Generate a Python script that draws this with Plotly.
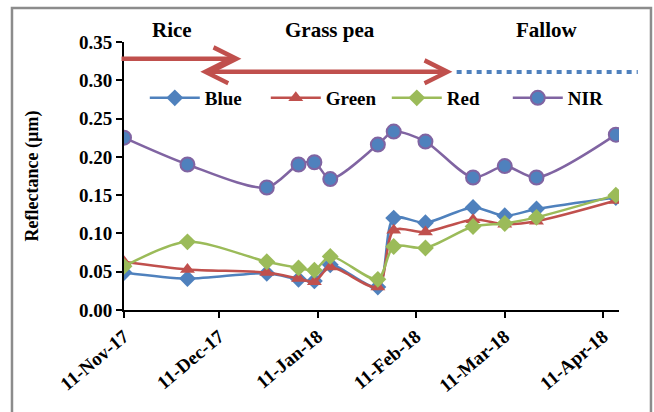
import plotly.graph_objects as go

# Acquisition dates of the scenes
dates = ["2017-11-11", "2017-12-01", "2017-12-26", "2018-01-05", "2018-01-10",
         "2018-01-15", "2018-01-30", "2018-02-04", "2018-02-14", "2018-03-01",
         "2018-03-11", "2018-03-21", "2018-04-15"]

# Band reflectance per date
blue = [0.049, 0.041, 0.048, 0.040, 0.038, 0.059, 0.030, 0.120, 0.114, 0.134, 0.123, 0.132, 0.147]
green = [0.063, 0.053, 0.049, 0.041, 0.037, 0.056, 0.030, 0.104, 0.102, 0.118, 0.112, 0.116, 0.143]
red = [0.057, 0.089, 0.063, 0.055, 0.052, 0.070, 0.040, 0.083, 0.081, 0.109, 0.113, 0.121, 0.150]
nir = [0.225, 0.190, 0.160, 0.190, 0.193, 0.171, 0.216, 0.233, 0.220, 0.173, 0.188, 0.173, 0.229]

# Axis ticks
tick_dates = ["2017-11-11", "2017-12-11", "2018-01-11", "2018-02-11", "2018-03-11", "2018-04-11"]
tick_labels = ["11-Nov-17", "11-Dec-17", "11-Jan-18", "11-Feb-18", "11-Mar-18", "11-Apr-18"]
y_ticks = [0.00, 0.05, 0.10, 0.15, 0.20, 0.25, 0.30, 0.35]

# Crop season phases (label, label date)
phases = [("Rice", "2017-11-26"), ("Grass pea", "2018-01-15"), ("Fallow", "2018-03-24")]
rice_span = ("2017-11-09 18:00", "2017-12-18")
grasspea_span = ("2017-12-04 14:00", "2018-02-22 12:00")

FONT = "Liberation Serif, Times New Roman, serif"
C_BLUE = "#4F81BD"
C_RED = "#C0504D"
C_GREEN = "#9BBB59"
C_PURPLE = "#8064A2"

fig = go.Figure()

fig.add_trace(go.Scatter(
    x=dates, y=blue, name="Blue", mode="lines+markers",
    line=dict(color=C_BLUE, width=2.5, shape="spline", smoothing=0.8),
    marker=dict(symbol="diamond", size=13, color=C_BLUE)))
fig.add_trace(go.Scatter(
    x=dates, y=green, name="Green", mode="lines+markers",
    line=dict(color=C_RED, width=2.5, shape="spline", smoothing=0.8),
    marker=dict(symbol="triangle-up", size=13, color=C_RED)))
fig.add_trace(go.Scatter(
    x=dates, y=red, name="Red", mode="lines+markers",
    line=dict(color=C_GREEN, width=2.5, shape="spline", smoothing=0.8),
    marker=dict(symbol="diamond", size=13, color=C_GREEN)))
fig.add_trace(go.Scatter(
    x=dates, y=nir, name="NIR", mode="lines+markers",
    line=dict(color=C_PURPLE, width=2.5, shape="spline", smoothing=0.8),
    marker=dict(symbol="circle", size=14, color=C_BLUE,
                line=dict(color=C_PURPLE, width=2))))

# Phase labels above the plot
for label, day in phases:
    fig.add_annotation(x=day, y=1.045, xref="x", yref="paper", text="<b>%s</b>" % label,
                       showarrow=False, yanchor="middle",
                       font=dict(family=FONT, size=21, color="black"))

# Rice arrow
fig.add_annotation(x=rice_span[1], y=0.328, ax=rice_span[0], ay=0.328,
                   xref="x", yref="y", axref="x", ayref="y", text="",
                   showarrow=True, arrowhead=5, arrowsize=1.0, arrowwidth=4.5,
                   arrowcolor=C_RED)
# Grass pea double arrow
fig.add_annotation(x=grasspea_span[1], y=0.311, ax=grasspea_span[0], ay=0.311,
                   xref="x", yref="y", axref="x", ayref="y", text="",
                   showarrow=True, arrowhead=5, startarrowhead=5, arrowside="end+start",
                   arrowsize=1.0, startarrowsize=1.0, arrowwidth=4.5,
                   arrowcolor=C_RED)
# Fallow: dotted continuation past the axis end
fig.add_shape(type="line", xref="paper", yref="paper",
              x0=0.672, x1=1.038, y0=0.888, y1=0.888,
              line=dict(color=C_BLUE, width=4, dash="5px,5px"))

# Outer chart border
fig.add_shape(type="rect", xref="paper", yref="paper",
              x0=-0.2263, x1=1.0646, y0=-0.40, y1=1.127,
              line=dict(color="#8C8C8C", width=2.5), fillcolor="rgba(0,0,0,0)")

fig.update_layout(
    width=654, height=412,
    margin=dict(l=124, r=35, t=42, b=102),
    paper_bgcolor="white", plot_bgcolor="white",
    font=dict(family=FONT, color="black"),
    showlegend=True,
    legend=dict(orientation="h", x=0.042, y=0.791, xanchor="left", yanchor="middle",
                font=dict(family=FONT, size=19, color="black", weight="bold"),
                itemwidth=50, tracegroupgap=0,
                entrywidth=56, entrywidthmode="pixels",
                bgcolor="rgba(0,0,0,0)"),
    xaxis=dict(type="date", range=["2017-11-11", "2018-04-16"],
               tickvals=tick_dates, ticktext=tick_labels, tickangle=-40,
               tickfont=dict(family=FONT, size=19, color="black", weight="bold"),
               showline=True, linecolor="black", linewidth=2,
               ticks="outside", ticklen=6, tickwidth=2, tickcolor="black",
               showgrid=False, zeroline=False),
    yaxis=dict(range=[0, 0.35], tickvals=y_ticks, tickformat=".2f",
               tickfont=dict(family=FONT, size=19, color="black", weight="bold"),
               showline=True, linecolor="black", linewidth=2,
               ticks="outside", ticklen=6, tickwidth=2, tickcolor="black",
               showgrid=False, zeroline=False,
               title=dict(text="Reflectance (µm)", standoff=36,
                          font=dict(family=FONT, size=18, color="black", weight="bold"))),
)

fig.write_html("out.html")
